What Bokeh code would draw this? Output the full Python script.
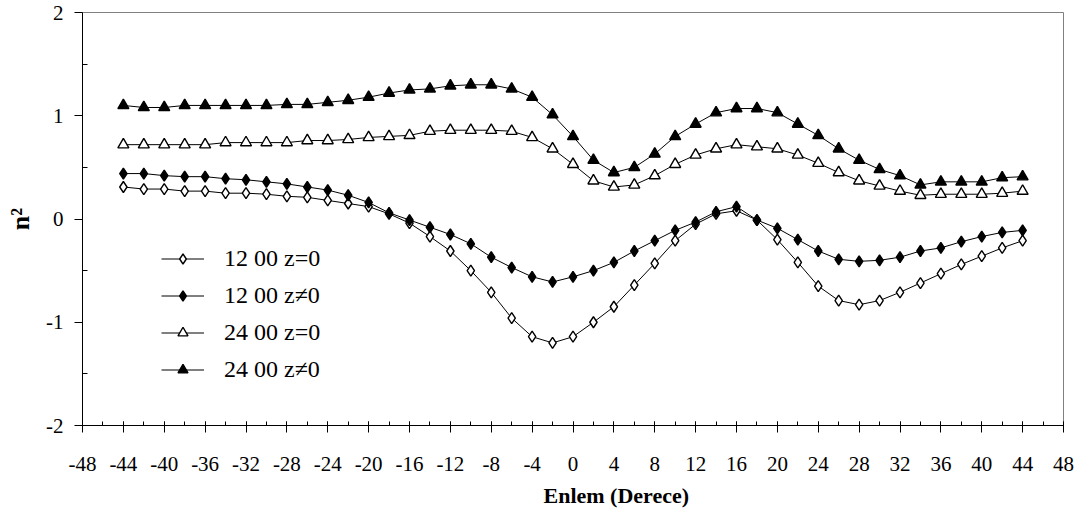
import numpy as np
from bokeh.plotting import figure
from bokeh.models import FixedTicker, Title
from bokeh.embed import file_html
from bokeh.resources import INLINE

# ---- data ----
lat = list(range(-44, 45, 2))

s_12_z0 = [0.31, 0.29, 0.29, 0.27, 0.27, 0.25, 0.25, 0.24, 0.22, 0.21, 0.18, 0.15,
           0.12, 0.05, -0.04, -0.17, -0.31, -0.50, -0.71, -0.96, -1.14, -1.20, -1.14,
           -1.00, -0.85, -0.64, -0.43, -0.21, -0.05, 0.05, 0.08, -0.01, -0.20, -0.42,
           -0.65, -0.79, -0.83, -0.79, -0.71, -0.62, -0.53, -0.44, -0.36, -0.28, -0.21]

s_12_znz = [0.44, 0.44, 0.42, 0.41, 0.41, 0.39, 0.38, 0.36, 0.34, 0.31, 0.28, 0.23,
            0.16, 0.06, -0.01, -0.08, -0.15, -0.24, -0.37, -0.47, -0.56, -0.61, -0.56,
            -0.50, -0.42, -0.31, -0.21, -0.11, -0.03, 0.07, 0.12, -0.01, -0.09, -0.20,
            -0.31, -0.39, -0.41, -0.40, -0.37, -0.31, -0.28, -0.22, -0.17, -0.13, -0.11]

s_24_z0 = [0.72, 0.72, 0.72, 0.72, 0.72, 0.74, 0.74, 0.74, 0.74, 0.76, 0.76, 0.77,
           0.79, 0.80, 0.81, 0.85, 0.86, 0.86, 0.86, 0.85, 0.79, 0.68, 0.53,
           0.37, 0.31, 0.33, 0.42, 0.53, 0.62, 0.68, 0.72, 0.70, 0.68, 0.62,
           0.54, 0.45, 0.37, 0.32, 0.27, 0.23, 0.24, 0.24, 0.24, 0.25, 0.27]

s_24_znz = [1.10, 1.08, 1.08, 1.10, 1.10, 1.10, 1.10, 1.10, 1.11, 1.11, 1.13, 1.15,
            1.18, 1.22, 1.25, 1.26, 1.29, 1.30, 1.30, 1.26, 1.18, 1.01, 0.80,
            0.57, 0.45, 0.50, 0.63, 0.80, 0.92, 1.03, 1.07, 1.07, 1.03, 0.92,
            0.81, 0.68, 0.57, 0.48, 0.42, 0.33, 0.36, 0.36, 0.36, 0.40, 0.41]

series_names = ["12 00 z=0", "12 00 z\u22600", "24 00 z=0", "24 00 z\u22600"]

x_ticks = list(range(-48, 49, 4))
x_minor = list(range(-48, 49, 2))
y_ticks = [-2, -1, 0, 1, 2]
y_minor = [-1.5, -0.5, 0.5, 1.5]
x_tick_labels = [str(t) for t in x_ticks]
y_tick_labels = [str(t) for t in y_ticks]

x_title = "Enlem (Derece)"
y_title = "n\u00b2"

FONT = "Liberation Serif"

p = figure(width=1075, height=514, x_range=(-48, 48), y_range=(-2, 2),
           output_backend="svg", toolbar_location=None,
           min_border_left=82, min_border_right=12, min_border_top=12, min_border_bottom=89)
p.xgrid.visible = False
p.ygrid.visible = False
p.outline_line_color = "#808080"
p.outline_line_width = 1
p.background_fill_color = "white"
p.border_fill_color = "white"

# axes
xa = p.xaxis[0]
xa.ticker = FixedTicker(ticks=x_ticks, minor_ticks=x_minor)
xa.major_label_overrides = dict(zip(x_ticks, x_tick_labels))
xa.major_tick_in = 4
xa.major_tick_out = 7
xa.minor_tick_in = 4
xa.minor_tick_out = 0
xa.major_label_standoff = 24
ya = p.yaxis[0]
ya.ticker = FixedTicker(ticks=y_ticks, minor_ticks=y_minor)
ya.major_label_overrides = dict(zip(y_ticks, y_tick_labels))
ya.major_tick_in = 0
ya.major_tick_out = 8
ya.minor_tick_in = 5
ya.minor_tick_out = 0
ya.major_label_standoff = 11
ya.axis_label = y_title
ya.axis_label_text_font = FONT
ya.axis_label_text_font_size = "26px"
ya.axis_label_text_font_style = "bold"
ya.axis_label_text_color = "black"
ya.axis_label_standoff = 8
for ax in (xa, ya):
    ax.axis_line_color = "black"
    ax.major_tick_line_color = "black"
    ax.minor_tick_line_color = "black"
    ax.major_label_text_font = FONT
    ax.major_label_text_font_size = "21px"
    ax.major_label_text_color = "black"

styles = [
    dict(marker="diamond", size=11, fill="white"),
    dict(marker="diamond", size=11, fill="black"),
    dict(marker="triangle", size=11, fill="white"),
    dict(marker="triangle", size=11, fill="black"),
]
for ys, name, st in zip([s_12_z0, s_12_znz, s_24_z0, s_24_znz], series_names, styles):
    p.line(lat, ys, line_color="black", line_width=1, legend_label=name)
    p.scatter(lat, ys, marker=st["marker"], size=st["size"], fill_color=st["fill"],
              line_color="black", line_width=1.4, legend_label=name)

lg = p.legend[0]
lg.location = (79, 42)
lg.border_line_color = None
lg.background_fill_alpha = 0
lg.padding = 0
lg.margin = 0
lg.spacing = 10
lg.glyph_width = 43
lg.glyph_height = 25
lg.label_height = 25
lg.label_standoff = 20
lg.label_text_font = FONT
lg.label_text_font_size = "24px"
lg.label_text_color = "black"

p.add_layout(Title(text=x_title, align="left", offset=461, standoff=14,
                   vertical_align="bottom",
                   text_font=FONT, text_font_size="22px", text_font_style="bold",
                   text_color="black"), "below")

open("out.html", "w").write(file_html(p, INLINE))
